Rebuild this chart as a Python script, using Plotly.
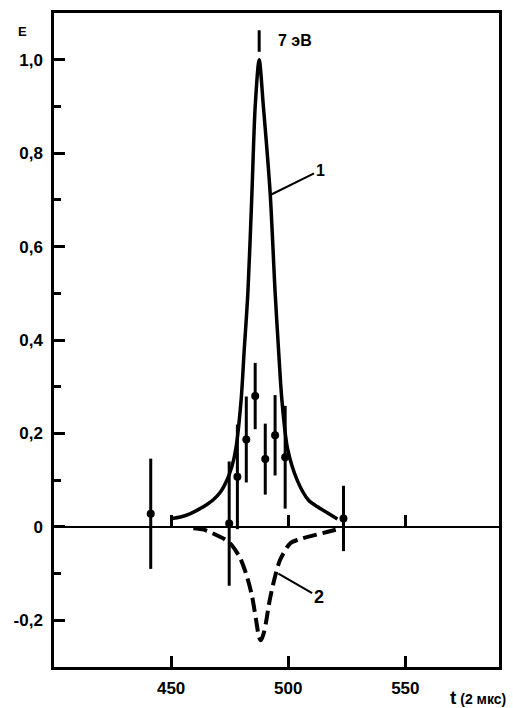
import plotly.graph_objects as go

# ---- data ----
curve1_t = [450.5, 454, 458, 462, 465.3, 468, 471, 474, 476, 477.6, 479.9, 481.2, 482.8, 484.5,
            485.9, 487.6, 489.4, 492.3, 494.4, 495.9, 497.3, 499.7, 504.0, 508.7, 512.5, 516.5, 521.0]
curve1_E = [0.018, 0.021, 0.028, 0.038, 0.048, 0.058, 0.074, 0.102, 0.13, 0.166, 0.272, 0.377, 0.503,
            0.714, 0.90, 1.0, 0.90, 0.714, 0.503, 0.377, 0.272, 0.168, 0.098, 0.057, 0.043, 0.031, 0.017]

curve2_t = [459.5, 464, 469.5, 473, 476, 479.5, 482.3, 484.5, 486.3, 487.5, 488.3, 489.3, 490.5,
            491.8, 493.7, 496.6, 500.9, 504.5, 508.7, 516.5, 523.0]
curve2_E = [-0.003, -0.006, -0.018, -0.027, -0.040, -0.067, -0.105, -0.147, -0.200, -0.235, -0.243,
            -0.232, -0.205, -0.165, -0.120, -0.070, -0.035, -0.027, -0.021, -0.011, -0.003]

pts_t = [441.3, 474.8, 478.3, 482.1, 485.9, 490.2, 494.4, 498.7, 523.6]
pts_E = [0.028, 0.007, 0.107, 0.187, 0.280, 0.145, 0.196, 0.149, 0.018]
pts_err = [0.118, 0.133, 0.112, 0.092, 0.071, 0.076, 0.086, 0.110, 0.070]

x_ticks = [450, 500, 550]
x_ticktext = ["450", "500", "550"]
y_ticks = [-0.2, 0, 0.2, 0.4, 0.6, 0.8, 1.0]
y_ticktext = ["-0,2", "0", "0,2", "0,4", "0,6", "0,8", "1,0"]
y_minor = [-0.1, 0.1, 0.3, 0.5, 0.7, 0.9]

x_range = [400, 590]
y_range = [-0.3, 1.1]

peak_t = 487.6
FONT = "Liberation Sans"

fig = go.Figure()

fig.add_trace(go.Scatter(x=curve1_t, y=curve1_E, mode="lines",
                         line=dict(color="black", width=3.5, shape="spline", smoothing=0.8),
                         hoverinfo="skip", showlegend=False))
fig.add_trace(go.Scatter(x=curve2_t, y=curve2_E, mode="lines", xaxis="x2",
                         line=dict(color="black", width=4, shape="spline", smoothing=0.8, dash="14px,6px"),
                         hoverinfo="skip", showlegend=False))
fig.add_trace(go.Scatter(x=pts_t, y=pts_E, mode="markers",
                         marker=dict(color="black", size=8),
                         error_y=dict(type="data", array=pts_err, color="black", thickness=3, width=0),
                         hoverinfo="skip", showlegend=False))

tickfont = dict(family=FONT, size=17, color="black", weight="bold")

fig.update_layout(
    width=513, height=708,
    margin=dict(l=54, r=14, t=10, b=37),
    paper_bgcolor="white", plot_bgcolor="white",
    xaxis=dict(range=x_range, tickvals=x_ticks, ticktext=x_ticktext, ticks="inside",
               ticklen=11, tickwidth=2.5, tickcolor="black", showline=True, linewidth=2.5,
               linecolor="black", mirror=True, showgrid=False, zeroline=False,
               tickfont=tickfont, ticklabelstandoff=4),
    xaxis2=dict(range=x_range, overlaying="x", anchor="free",
                position=(0 - y_range[0]) / (y_range[1] - y_range[0]), side="bottom",
                tickvals=x_ticks, ticks="inside", ticklen=11, tickwidth=2.5, tickcolor="black",
                showticklabels=False, showline=True, linewidth=2, linecolor="black",
                showgrid=False, zeroline=False),
    yaxis=dict(range=y_range, tickvals=y_ticks, ticktext=y_ticktext, ticks="inside",
               ticklen=11, tickwidth=2.5, tickcolor="black", showline=True, linewidth=2.5,
               linecolor="black", mirror=True, showgrid=False, zeroline=False,
               tickfont=tickfont, ticklabelstandoff=5,
               minor=dict(tickvals=y_minor, ticks="inside", ticklen=7, tickwidth=2.5, tickcolor="black")),
)

# peak marker "7 эВ"
fig.add_shape(type="line", x0=peak_t, x1=peak_t, y0=1.017, y1=1.063, xref="x", yref="y",
              line=dict(color="black", width=3))
fig.add_annotation(x=494.9, y=1.042, xref="x", yref="y", text="7 эВ", showarrow=False,
                   xanchor="left", yanchor="middle",
                   font=dict(family=FONT, size=16, color="black", weight="bold"))

# curve labels with leader lines
fig.add_annotation(x=493.0, y=0.712, ax=513.6, ay=0.763, xref="x", yref="y", axref="x", ayref="y",
                   text="1", showarrow=True, arrowhead=0, arrowwidth=2, arrowcolor="black",
                   font=dict(family=FONT, size=16, color="black", weight="bold"))
fig.add_annotation(x=495.8, y=-0.100, ax=513.0, ay=-0.150, xref="x", yref="y", axref="x", ayref="y",
                   text="2", showarrow=True, arrowhead=0, arrowwidth=2, arrowcolor="black",
                   font=dict(family=FONT, size=18, color="black", weight="bold"))

# axis titles
fig.add_annotation(x=-0.07, y=0.971, xref="paper", yref="paper", text="E", showarrow=False,
                   xanchor="center", yanchor="middle",
                   font=dict(family=FONT, size=13, color="black", weight="bold"))
fig.add_annotation(x=0.885, y=-0.047, xref="paper", yref="paper",
                   text="t<span style='font-size:14px'> (2 мкс)</span>", showarrow=False,
                   xanchor="left", yanchor="middle",
                   font=dict(family=FONT, size=19, color="black", weight="bold"))

fig.write_html("out.html")
